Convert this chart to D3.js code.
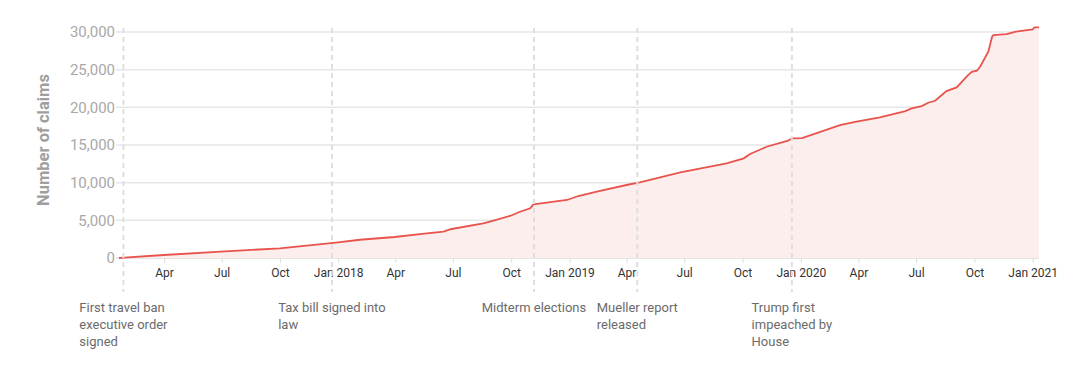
<!DOCTYPE html>
<html>
<head>
<meta charset="utf-8">
<script src="https://cdn.jsdelivr.net/npm/d3@7"></script>
<style>
  body { margin: 0; background: #fff; }
  svg { font-family: "Roboto", "Liberation Sans", sans-serif; }
</style>
</head>
<body>
<svg id="chart" width="1073" height="378"></svg>
<script>
// cumulative count of claims
const dates = ["2017-01-20","2017-01-28","2017-04-01","2017-06-30","2017-10-01","2018-01-01","2018-02-04",
  "2018-03-31","2018-05-10","2018-06-16","2018-06-29","2018-08-18","2018-09-06","2018-09-30","2018-10-15",
  "2018-10-31","2018-11-05","2018-11-26","2018-12-28","2019-01-15","2019-02-13","2019-04-01","2019-04-22",
  "2019-06-25","2019-09-06","2019-10-03","2019-10-13","2019-11-08","2019-12-12","2019-12-18","2020-01-03",
  "2020-03-03","2020-03-29","2020-05-05","2020-06-14","2020-06-24","2020-07-10","2020-07-20","2020-07-31",
  "2020-08-18","2020-09-03","2020-09-21","2020-09-27","2020-10-05","2020-10-10","2020-10-23","2020-10-29",
  "2020-10-31","2020-11-21","2020-12-04","2021-01-01","2021-01-04","2021-01-11"];
const claims = [0,50,400,840,1290,2080,2420,
  2790,3180,3490,3850,4600,5040,5610,6140,
  6590,7120,7340,7700,8230,8800,9690,10040,
  11370,12570,13230,13800,14770,15570,15880,15920,
  17650,18090,18670,19500,19860,20170,20610,20870,
  22160,22650,24280,24720,24860,25390,27380,29370,
  29590,29720,30030,30350,30610,30610];

const yTicks = [0, 5000, 10000, 15000, 20000, 25000, 30000];

const eventDates = ["2017-01-27","2017-12-22","2018-11-06","2019-04-18","2019-12-18"];
const eventLabels = [
  ["First travel ban", "executive order", "signed"],
  ["Tax bill signed into", "law"],
  ["Midterm elections"],
  ["Mueller report", "released"],
  ["Trump first", "impeached by", "House"]
];

const parse = d3.timeParse("%Y-%m-%d");
const data = dates.map((d, i) => ({ date: parse(d), value: claims[i] }));

const svg = d3.select("#chart");
const plotL = 119, plotR = 1039, plotT = 32, plotB = 258;

const x = d3.scaleTime()
  .domain([parse("2017-01-20"), parse("2021-01-11")])
  .range([plotL, plotR]);
const y = d3.scaleLinear()
  .domain([0, 30000])
  .range([plotB, plotT]);

// gridlines
svg.append("g")
  .selectAll("line")
  .data(yTicks)
  .join("line")
  .attr("x1", plotL - 3)
  .attr("x2", plotR)
  .attr("y1", d => y(d))
  .attr("y2", d => y(d))
  .style("stroke", d => d === 0 ? "#dcdcdc" : "#e6e6e6")
  .style("stroke-width", 1.5);

// y labels
svg.append("g")
  .selectAll("text")
  .data(yTicks)
  .join("text")
  .attr("x", 115)
  .attr("y", d => y(d))
  .attr("dy", "0.35em")
  .attr("text-anchor", "end")
  .text(d => d3.format(",")(d))
  .style("font-size", "15px")
  .style("fill", "#a8a8a8");

svg.append("text")
  .attr("transform", "translate(49,140) rotate(-90)")
  .attr("text-anchor", "middle")
  .text("Number of claims")
  .style("font-size", "16.5px")
  .style("font-weight", 700)
  .style("fill", "#9e9e9e");

// area + line
svg.append("path")
  .datum(data)
  .attr("d", d3.area().x(d => x(d.date)).y0(y(0)).y1(d => y(d.value)))
  .style("fill", "#fdeeee");

svg.append("path")
  .datum(data)
  .attr("d", d3.line().x(d => x(d.date)).y(d => y(d.value)))
  .style("fill", "none")
  .style("stroke", "#e8534c")
  .style("stroke-width", 1.8);

// x axis
const fmt = d => d.getMonth() === 0 ? d3.timeFormat("%b %Y")(d) : d3.timeFormat("%b")(d);
const xAxis = svg.append("g")
  .attr("transform", `translate(0,${plotB})`)
  .call(d3.axisBottom(x)
    .ticks(d3.timeMonth.filter(d => d.getMonth() % 3 === 0))
    .tickFormat(fmt)
    .tickSize(5)
    .tickPadding(5));
xAxis.select(".domain").remove();
xAxis.selectAll("line").style("stroke", "#dcdcdc");
xAxis.selectAll("text")
  .style("font-size", "12px")
  .style("fill", "#333")
  .style("font-family", "Roboto, sans-serif");

// event markers
const ev = svg.append("g")
  .selectAll("g")
  .data(eventDates)
  .join("g")
  .attr("transform", d => `translate(${x(parse(d))},0)`);

ev.append("line")
  .attr("y1", 28)
  .attr("y2", 292)
  .style("stroke", "#dedede")
  .style("stroke-width", 2)
  .style("stroke-dasharray", "5,4");

ev.each(function (d, i) {
  const g = d3.select(this);
  const t = g.append("text")
    .style("font-size", "13px")
    .style("fill", "#6b6b6b");
  eventLabels[i].forEach((s, j) => {
    t.append("tspan").attr("x", 0).attr("y", 312 + j * 17).text(s);
  });
  let w = 0;
  t.selectAll("tspan").each(function () { w = Math.max(w, this.getComputedTextLength()); });
  t.selectAll("tspan").attr("x", -w / 2);
});
</script>
</body>
</html>
